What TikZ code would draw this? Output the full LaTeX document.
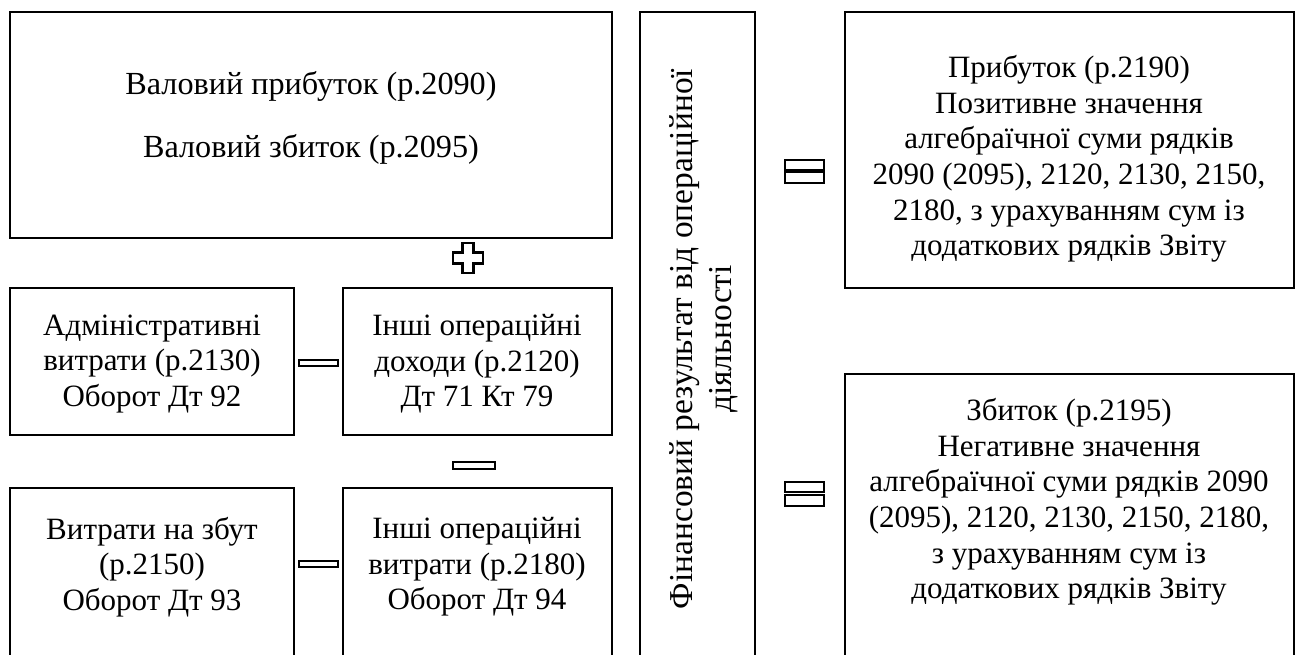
\documentclass[tikz,border=0pt]{standalone}
\usepackage{fontspec}
\setmainfont{Liberation Serif}
\begin{document}
\begin{tikzpicture}[x=0.5pt,y=-0.5pt,
  testo/.style={align=center,font=\fontsize{15.5}{17.8}\selectfont},
  segno/.style={line width=1.3pt}]
\useasboundingbox (0,0) rectangle (1296,654);
\clip (0,0) rectangle (1296,654);

% Riquadri (quelli in basso escono dal foglio)
\begin{scope}[line width=1.2pt]
\draw (10,12) rectangle (612,238);    % valovyi
\draw (10,288) rectangle (294,435);   % administratyvni
\draw (343,288) rectangle (612,435);  % inshi dokhody
\draw (10,488) rectangle (294,700);   % zbut
\draw (343,488) rectangle (612,700);  % inshi vytraty
\draw (640,12) rectangle (755,700);   % colonna centrale
\draw (845,12) rectangle (1294,288);  % prybutok
\draw (845,374) rectangle (1294,700); % zbytok
\end{scope}

% Testi
\node[testo,font=\fontsize{16.1}{17.8}\selectfont] (valovyi) at (311,118) {Валовий прибуток (р.2090)\\[13.5pt]Валовий збиток (р.2095)};
\node[testo] (admin) at (152,364) {Адміністративні\\витрати (р.2130)\\Оборот Дт 92};
\node[testo] (dokhody) at (477,364) {Інші операційні\\доходи (р.2120)\\Дт 71 Кт 79};
\node[testo] (zbut) at (152,567) {Витрати на збут\\(р.2150)\\Оборот Дт 93};
\node[testo] (vytraty) at (477,567) {Інші операційні\\витрати (р.2180)\\Оборот Дт 94};
\node[testo,rotate=90,font=\fontsize{16.7}{19.5}\selectfont] (finrez) at (704,339) {Фінансовий результат від операційної\\діяльності};
\node[testo] (prybutok) at (1069,159) {Прибуток (р.2190)\\Позитивне значення\\алгебраїчної суми рядків\\2090 (2095), 2120, 2130, 2150,\\2180, з урахуванням сум із\\додаткових рядків Звіту};
\node[testo] (zbytok) at (1069,502) {Збиток (р.2195)\\Негативне значення\\алгебраїчної суми рядків 2090\\(2095), 2120, 2130, 2150, 2180,\\з урахуванням сум із\\додаткових рядків Звіту};

% Segni
\coordinate (piu) at (468,258);
\draw[segno] (piu) ++(-5.5,-15) -- ++(11,0) -- ++(0,9.5) -- ++(9.5,0) -- ++(0,11) -- ++(-9.5,0)
  -- ++(0,9.5) -- ++(-11,0) -- ++(0,-9.5) -- ++(-9.5,0) -- ++(0,-11) -- ++(9.5,0) -- cycle;
\draw[segno] (299,360) rectangle (338,366); % meno riga 2
\draw[segno] (453,462) rectangle (495,469); % meno centrale
\draw[segno] (299,561) rectangle (338,567); % meno riga 3
\draw[segno] (785,160) rectangle (824,170); % uguale sopra
\draw[segno] (785,172) rectangle (824,183);
\draw[segno] (785,482) rectangle (824,492); % uguale sotto
\draw[segno] (785,495) rectangle (824,506);

\end{tikzpicture}
\end{document}
